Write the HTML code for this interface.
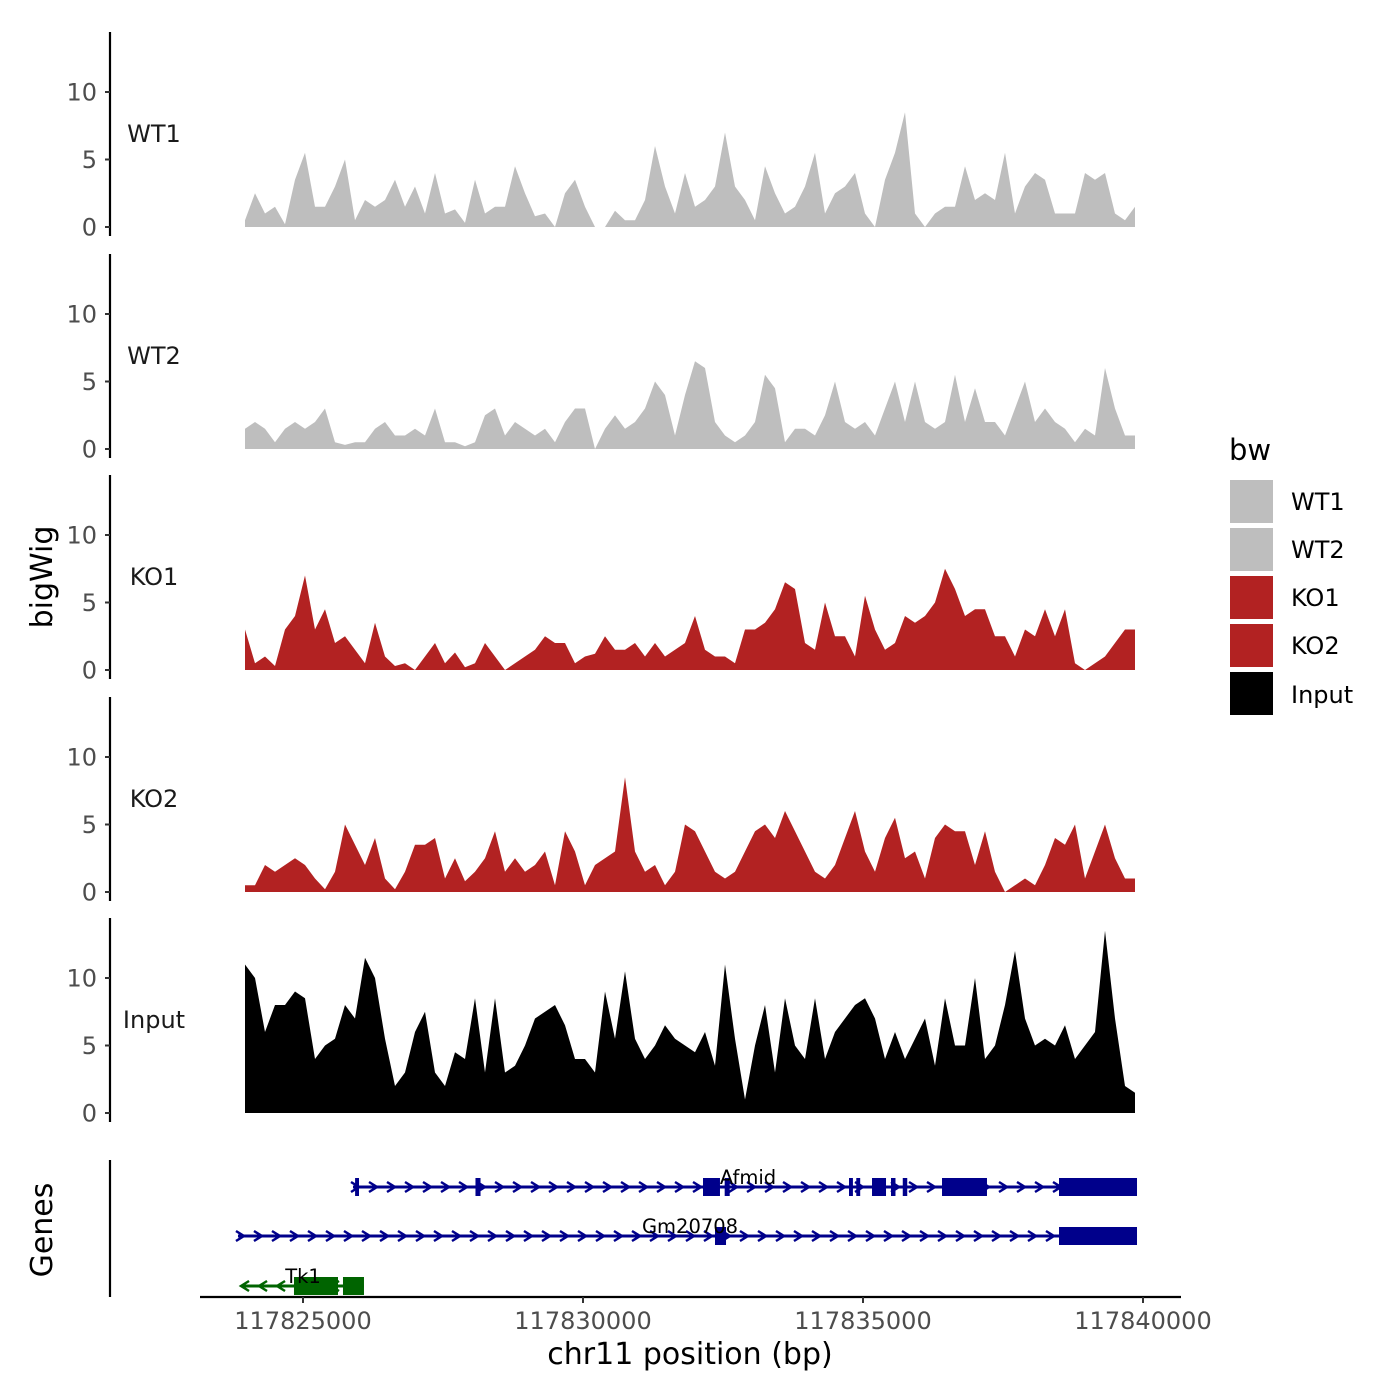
<!DOCTYPE html>
<html><head><meta charset="utf-8"><style>
html,body{margin:0;padding:0;background:#fff;}
svg{display:block;font-family:"DejaVu Sans","Liberation Sans",sans-serif;}
</style></head><body>
<svg id="chart" width="1400" height="1400" xmlns="http://www.w3.org/2000/svg"></svg>
<script>
const trackNames = ["WT1","WT2","KO1","KO2","Input"];
const trackColors = ["#bebebe","#bebebe","#b22222","#b22222","#000000"];
const binStart = 117823964;
const binStep = 178.57;
const wt1 = [0.5,2.5,1,1.5,0.2,3.5,5.5,1.5,1.5,3,5,0.5,2,1.5,2,3.5,1.5,3,1,4,1,1.3,0.3,3.5,1,1.5,1.5,4.5,2.5,0.8,1,0,2.5,3.5,1.5,0,0,1.2,0.5,0.5,2,6,3,1,4,1.5,2,3,7,3,2,0.5,4.5,2.5,1,1.5,3,5.5,1,2.5,3,4,1,0,3.5,5.5,8.5,1,0,1,1.5,1.5,4.5,2,2.5,2,5.5,1,3,4,3.5,1,1,1,4,3.5,4,1,0.5,1.5];
const wt2 = [1.5,2,1.5,0.5,1.5,2,1.5,2,3,0.5,0.3,0.5,0.5,1.5,2,1,1,1.5,1,3,0.5,0.5,0.2,0.5,2.5,3,1,2,1.5,1,1.5,0.5,2,3,3,0,1.5,2.5,1.5,2,3,5,4,1,4,6.5,6,2,1,0.5,1,2,5.5,4.5,0.5,1.5,1.5,1,2.5,5,2,1.5,2,1,3,5,2,5,2,1.5,2,5.5,2,4.5,2,2,1,3,5,2,3,2,1.5,0.5,1.5,1,6,3,1,1];
const ko1 = [3,0.5,1,0.3,3,4,7,3,4.5,2,2.5,1.5,0.5,3.5,1,0.3,0.5,0,1,2,0.5,1.3,0.2,0.5,2,1,0,0.5,1,1.5,2.5,2,2,0.5,1,1.2,2.5,1.5,1.5,2,1,2,1,1.5,2,4,1.5,1,1,0.5,3,3,3.5,4.5,6.5,6,2,1.5,5,2.5,2.5,1,5.5,3,1.5,2,4,3.5,4,5,7.5,6,4,4.5,4.5,2.5,2.5,1,3,2.5,4.5,2.5,4.5,0.5,0,0.5,1,2,3,3];
const ko2 = [0.5,0.5,2,1.5,2,2.5,2,1,0.2,1.5,5,3.5,2,4,1,0.2,1.5,3.5,3.5,4,1,2.5,0.8,1.5,2.5,4.5,1.5,2.5,1.5,2,3,0.5,4.5,3,0.5,2,2.5,3,8.5,3,1.5,2,0.5,1.5,5,4.5,3,1.5,1,1.5,3,4.5,5,4,6,4.5,3,1.5,1,2,4,6,3,1.5,4,5.5,2.5,3,1,4,5,4.5,4.5,2,4.5,1.5,0,0.5,1,0.5,2,4,3.5,5,1,3,5,2.5,1,1];
const inputVals = [11,10,6,8,8,9,8.5,4,5,5.5,8,7,11.5,10,5.5,2,3,6,7.5,3,2,4.5,4,8.5,3,8.5,3,3.5,5,7,7.5,8,6.5,4,4,3,9,5.5,10.5,5.5,4,5,6.5,5.5,5,4.5,6,3.5,11,5.5,1,5,8,3,8.5,5,4,8.5,4,6,7,8,8.5,7,4,6,4,5.5,7,3.5,8.5,5,5,10,4,5,8,12,7,5,5.5,5,6.5,4,5,6,13.5,7,2,1.5];
const seriesVals = [wt1,wt2,ko1,ko2,inputVals];
const yTicks = [0,5,10];
const xTicks = [117825000,117830000,117835000,117840000];
const xTickLabels = ["117825000","117830000","117835000","117840000"];
const geneNames = ["Afmid","Gm20708","Tk1"];
const geneStarts = [117825893,117823839,117823929];
const geneEnds = [117839893,117839893,117826089];
const geneStrand = [1,1,-1];
const geneLabelPos = [117832946,117831911,117825000];
const exonGene = [0,0,0,0,0,0,0,0,0,0,0,1,1,2,2];
const exonStarts = [117825930,117828080,117832143,117832530,117834750,117834880,117835161,117835500,117835710,117836411,117838500,117832357,117838500,117824839,117825714];
const exonEnds = [117826000,117828170,117832446,117832620,117834820,117834950,117835411,117835580,117835790,117837214,117839893,117832554,117839893,117825625,117826089];

const NS="http://www.w3.org/2000/svg";
const svg=document.getElementById('chart');
function mk(tag,attrs,parent){const e=document.createElementNS(NS,tag);for(const k in attrs)e.setAttribute(k,attrs[k]);(parent||svg).appendChild(e);return e;}
const xs = bp => 303 + (bp-117825000)*0.056;
const panelZero=[227,449,670,892,1113];
const pxPerUnit=13.5;

trackNames.forEach((nm,ti)=>{
  const z=panelZero[ti];
  const ys=v=>z-v*pxPerUnit;
  const g=mk('g',{});
  
  
  const vals=seriesVals[ti];
  let d='M'+xs(binStart).toFixed(1)+','+z;
  vals.forEach((v,i)=>{d+=' L'+xs(binStart+i*binStep).toFixed(1)+','+ys(v).toFixed(1);});
  d+=' L'+xs(binStart+(vals.length-1)*binStep).toFixed(1)+','+z+' Z';
  const p=mk('path',{d:d,fill:trackColors[ti]},g);
  
  
  const ax=mk('line',{x1:110,x2:110,y1:z-195,y2:z+9,stroke:'#000','stroke-width':2.2},g);
  
  
  yTicks.forEach(t=>{
    mk('line',{x1:105,x2:110,y1:ys(t),y2:ys(t),stroke:'#333','stroke-width':2},g);
    const tl=mk('text',{x:97,y:ys(t)+8.5,'text-anchor':'end','font-size':24,fill:'#4d4d4d'},g);
    tl.textContent=t;
    
    
  });
  const lab=mk('text',{x:154,y:z-85,'text-anchor':'middle','font-size':24,fill:'#1a1a1a'},g);
  lab.textContent=nm;
  
  
});

const gp=mk('g',{});


mk('line',{x1:110,x2:110,y1:1160,y2:1297,stroke:'#000','stroke-width':2.2},gp);
const geneY=[1187,1236,1286];
geneNames.forEach((gn,gi)=>{
  const y=geneY[gi], col=gi<2?'#00008b':'#006400';
  const x1=xs(geneStarts[gi]), x2=xs(geneEnds[gi]);
  const gg=mk('g',{},gp);
  
  
  mk('line',{x1:x1,x2:x2,y1:y,y2:y,stroke:col,'stroke-width':3},gg);
  for(let ax=x1+2; ax<x2-4; ax+=18){
    const s=geneStrand[gi]*4;
    mk('polyline',{points:(ax-s)+','+(y-5)+' '+(ax+s)+','+y+' '+(ax-s)+','+(y+5),fill:'none',stroke:col,'stroke-width':2.5},gg);
  }
  exonGene.forEach((eg,ei)=>{ if(eg!==gi)return;
    mk('rect',{x:xs(exonStarts[ei]),y:y-9,width:Math.max(3,xs(exonEnds[ei])-xs(exonStarts[ei])),height:18,fill:col},gg);
  });
  const t=mk('text',{x:xs(geneLabelPos[gi]),y:y-3,'text-anchor':'middle','font-size':19.5,fill:'#000'},gg);
  t.textContent=gn;
  
  
});
mk('line',{x1:200,x2:1181,y1:1297,y2:1297,stroke:'#000','stroke-width':2.2});
xTicks.forEach((t,i)=>{
  mk('line',{x1:xs(t),x2:xs(t),y1:1297,y2:1303,stroke:'#333','stroke-width':2});
  const tl=mk('text',{x:xs(t),y:1329,'text-anchor':'middle','font-size':24,fill:'#4d4d4d'});
  tl.textContent=xTickLabels[i];
  
  
});
</script>
<svg style="position:absolute;left:0;top:0" width="1400" height="1400" xmlns="http://www.w3.org/2000/svg" font-family="DejaVu Sans, Liberation Sans, sans-serif">
<text x="690" y="1364" text-anchor="middle" font-size="30">chr11 position (bp)</text>
<text transform="translate(52,577) rotate(-90)" text-anchor="middle" font-size="30">bigWig</text>
<text transform="translate(52,1230) rotate(-90)" text-anchor="middle" font-size="30">Genes</text>
<g>
<text x="1229" y="460" font-size="29">bw</text>
<rect x="1230" y="480" width="43" height="43" fill="#bebebe"/>
<rect x="1230" y="528" width="43" height="43" fill="#bebebe"/>
<rect x="1230" y="576" width="43" height="43" fill="#b22222"/>
<rect x="1230" y="624" width="43" height="43" fill="#b22222"/>
<rect x="1230" y="672" width="43" height="43" fill="#000"/>
<text x="1291" y="510" font-size="24">WT1</text>
<text x="1291" y="558" font-size="24">WT2</text>
<text x="1291" y="606" font-size="24">KO1</text>
<text x="1291" y="654" font-size="24">KO2</text>
<text x="1291" y="703" font-size="24">Input</text>
</g>
</svg>
</body></html>
